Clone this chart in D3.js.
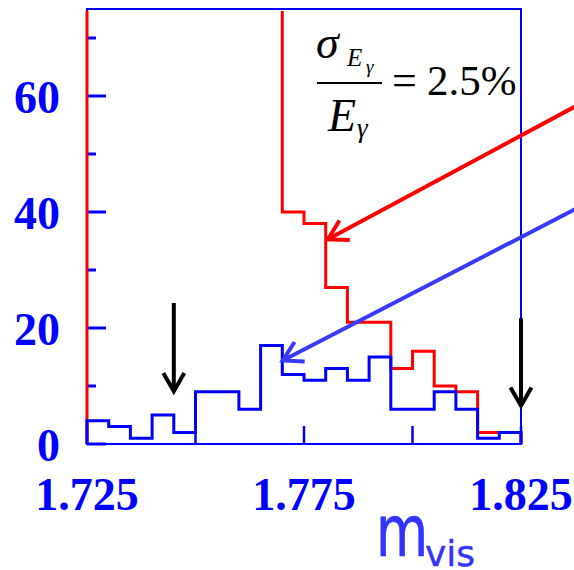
<!DOCTYPE html>
<html>
<head>
<meta charset="utf-8">
<script src="https://cdn.jsdelivr.net/npm/d3@7"></script>
<style>
  body { margin: 0; background: #fff; }
  svg { display: block; }
</style>
</head>
<body>
<div id="chart"></div>
<script>
//	Data: 20 bins of 0.005 from 1.725 to 1.825
var binEdges = d3.range(21).map(function(i) { return +(1.725 + i * 0.005).toFixed(3); });
// red histogram (first bins are off the top of the frame)
var redCounts = [160, 190, 230, 280, 330, 360, 330, 250, 130, 40, 38, 27, 21, 21, 13, 16, 10, 9, 2, 2];
// blue histogram
var blueCounts = [4, 3, 1, 5, 2, 9, 9, 6, 17, 12, 11, 13, 11, 15, 6, 6, 9, 6, 1, 2];

var xTicks = [1.725, 1.75, 1.775, 1.8, 1.825];
var xLabels = ["1.725", "1.775", "1.825"];
var yMajor = [0, 20, 40, 60];
var yMinor = [10, 30, 50, 70];

// window arrows (mass, top, tip)
var windowArrows = [[1.745, 24.3, 9.1], [1.825, 21.7, 6.6]];
// pointer arrows (tail mass, tail count, tip mass, tip count)
var redPointer = [1.8375, 58.2, 1.7805, 35.3];
var bluePointer = [1.8375, 40.5, 1.7701, 14.4];

var width = 574, height = 570;

var svg = d3.select("#chart")
    .append("svg")
    .attr("width", width)
    .attr("height", height);

var x = d3.scaleLinear().domain([1.725, 1.825]).range([87, 521]);
var y = d3.scaleLinear().domain([0, 75]).range([444, 9]);

var blue = "#0000ff";
var serif = "'Liberation Serif', 'Times New Roman', serif";

// clip for the histograms
svg.append("defs").append("clipPath")
    .attr("id", "plotclip")
    .append("rect")
    .attr("x", x(1.725) - 3)
    .attr("y", y(75) + 2)
    .attr("width", x(1.825) - x(1.725) + 6)
    .attr("height", y(0) - y(75));

//	Histogram path helper
function histPoints(counts) {
    var pts = [[binEdges[0], 0]];
    counts.forEach(function(c, i) { pts.push([binEdges[i], c]); });
    pts.push([binEdges[20], counts[counts.length - 1]]);
    pts.push([binEdges[20], 0]);
    return pts;
}
var histLine = d3.line()
    .x(function(d) { return x(d[0]); })
    .y(function(d) { return y(d[1]); })
    .curve(d3.curveStepAfter);

// Frame
svg.append("rect")
    .attr("x", x(1.725))
    .attr("y", y(75))
    .attr("width", x(1.825) - x(1.725))
    .attr("height", y(0) - y(75))
    .attr("fill", "none")
    .attr("stroke", blue)
    .attr("stroke-width", 2);

// Y ticks
svg.selectAll(".ymaj").data(yMajor).enter().append("line")
    .attr("x1", x(1.725)).attr("x2", x(1.725) + 19)
    .attr("y1", function(d) { return y(d); }).attr("y2", function(d) { return y(d); })
    .attr("stroke", blue).attr("stroke-width", 3);
svg.selectAll(".ymin").data(yMinor).enter().append("line")
    .attr("x1", x(1.725)).attr("x2", x(1.725) + 9)
    .attr("y1", function(d) { return y(d); }).attr("y2", function(d) { return y(d); })
    .attr("stroke", blue).attr("stroke-width", 3);

// X ticks
svg.selectAll(".xt").data(xTicks).enter().append("line")
    .attr("x1", function(d) { return x(d); }).attr("x2", function(d) { return x(d); })
    .attr("y1", y(0)).attr("y2", y(0) - 18)
    .attr("stroke", blue).attr("stroke-width", 2.5);

// Red histogram then blue on top
svg.append("path")
    .attr("d", histLine(histPoints(redCounts)))
    .attr("clip-path", "url(#plotclip)")
    .attr("fill", "none")
    .attr("stroke", "#ff0000")
    .attr("stroke-width", 3);

svg.append("path")
    .attr("d", histLine(histPoints(blueCounts)))
    .attr("clip-path", "url(#plotclip)")
    .attr("fill", "none")
    .attr("stroke", blue)
    .attr("stroke-width", 3);

// redraw the top line of the frame over the clipped red bins
svg.append("line")
    .attr("x1", x(1.725)).attr("x2", x(1.825))
    .attr("y1", y(75)).attr("y2", y(75))
    .attr("stroke", blue).attr("stroke-width", 2);

//	Arrow with open head
function arrowPath(x1, y1, x2, y2, len, ang) {
    var a = Math.atan2(y1 - y2, x1 - x2);
    var r = ang * Math.PI / 180;
    var p = d3.path();
    p.moveTo(x1, y1);
    p.lineTo(x2, y2);
    p.moveTo(x2 + len * Math.cos(a + r), y2 + len * Math.sin(a + r));
    p.lineTo(x2, y2);
    p.lineTo(x2 + len * Math.cos(a - r), y2 + len * Math.sin(a - r));
    return p.toString();
}

// black mass-window arrows
svg.selectAll(".warrow").data(windowArrows).enter().append("path")
    .attr("d", function(d) { return arrowPath(x(d[0]), y(d[1]), x(d[0]), y(d[2]), 21, 30); })
    .attr("fill", "none")
    .attr("stroke", "#000")
    .attr("stroke-width", 4);

// pointer arrows
svg.append("path")
    .attr("d", arrowPath(x(redPointer[0]), y(redPointer[1]), x(redPointer[2]), y(redPointer[3]), 22, 30))
    .attr("fill", "none")
    .attr("stroke", "#ff0000")
    .attr("stroke-width", 4);
svg.append("path")
    .attr("d", arrowPath(x(bluePointer[0]), y(bluePointer[1]), x(bluePointer[2]), y(bluePointer[3]), 22, 30))
    .attr("fill", "none")
    .attr("stroke", "#3a3aff")
    .attr("stroke-width", 4);

// Tick labels
svg.selectAll(".ylab").data(yMajor).enter().append("text")
    .attr("x", 60)
    .attr("y", function(d) { return y(d) + 16.5; })
    .attr("text-anchor", "end")
    .style("font-family", serif)
    .style("font-weight", "bold")
    .style("font-size", "46px")
    .attr("fill", blue)
    .text(function(d) { return d; });

svg.selectAll(".xlab").data(xLabels).enter().append("text")
    .attr("x", function(d) { return x(+d); })
    .attr("y", 510)
    .attr("text-anchor", "middle")
    .style("font-family", serif)
    .style("font-weight", "bold")
    .style("font-size", "46px")
    .attr("fill", blue)
    .text(function(d) { return d; });

// axis title m_vis
svg.append("text")
    .attr("transform", "translate(376,556) scale(1.05,1.38)")
    .style("font-family", "'DejaVu Sans', sans-serif")
    .style("font-size", "51px")
    .attr("fill", "#3333ff")
    .attr("stroke", "#3333ff")
    .attr("stroke-width", 0.5)
    .text("m");
svg.append("text")
    .attr("x", 425)
    .attr("y", 566)
    .style("font-family", "'DejaVu Sans', sans-serif")
    .style("font-size", "36px")
    .attr("fill", "#3333ff")
    .attr("stroke", "#3333ff")
    .attr("stroke-width", 0.4)
    .text("vis");

// resolution label
var f = svg.append("g").attr("fill", "#000").style("font-family", serif);
f.append("text").attr("x", 316).attr("y", 58).style("font-size", "46px").style("font-style", "italic").text("σ");
f.append("text").attr("x", 347).attr("y", 66).style("font-size", "25px").style("font-style", "italic").text("E");
f.append("text").attr("x", 366).attr("y", 73).style("font-size", "19px").style("font-style", "italic").text("γ");
f.append("line").attr("x1", 317).attr("x2", 382).attr("y1", 83).attr("y2", 83).attr("stroke", "#000").attr("stroke-width", 2);
f.append("text").attr("x", 328).attr("y", 131).style("font-size", "46px").style("font-style", "italic").text("E");
f.append("text").attr("x", 357).attr("y", 137).style("font-size", "27px").style("font-style", "italic").text("γ");
f.append("text").attr("x", 392).attr("y", 95).style("font-size", "44px").text("=");
f.append("text").attr("x", 427).attr("y", 95).style("font-size", "43px").text("2.5%");
</script>
</body>
</html>
